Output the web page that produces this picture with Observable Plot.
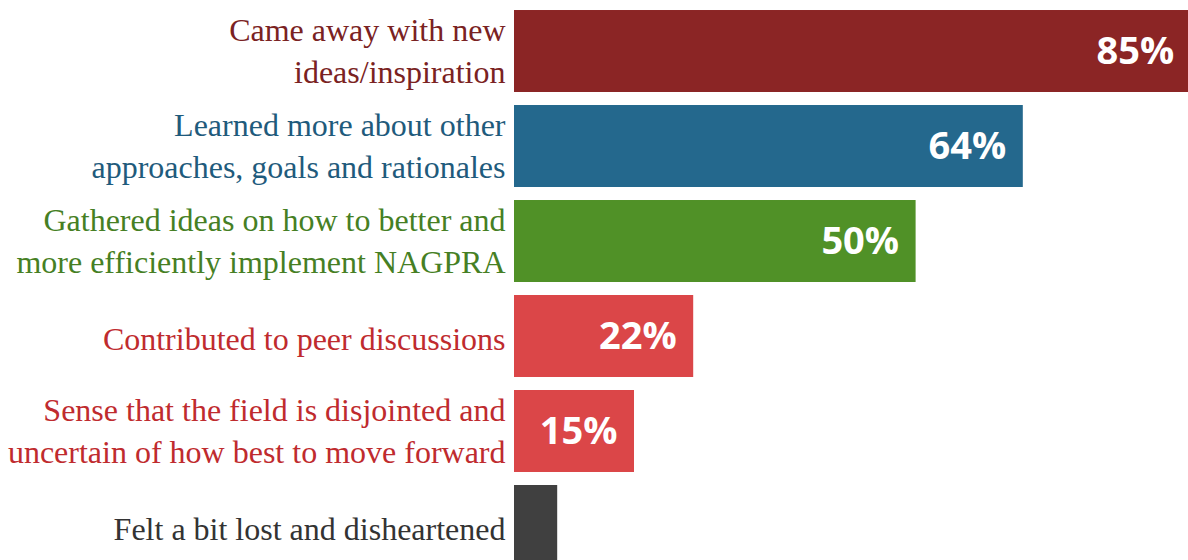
<!DOCTYPE html>
<html>
<head>
<meta charset="utf-8">
<script src="https://cdn.jsdelivr.net/npm/d3@7"></script>
<script src="https://cdn.jsdelivr.net/npm/@observablehq/plot@0.6"></script>
<style>
  html, body { margin: 0; padding: 0; background: #fff; }
  #chart svg { display: block; }
</style>
</head>
<body>
<div id="chart"></div>
<script>
const categories = [
  "Came away with new\nideas/inspiration",
  "Learned more about other\napproaches, goals and rationales",
  "Gathered ideas on how to better and\nmore efficiently implement NAGPRA",
  "Contributed to peer discussions",
  "Sense that the field is disjointed and\nuncertain of how best to move forward",
  "Felt a bit lost and disheartened"
];
const values = [84.6, 63.6, 50.2, 22.4, 15.0, 5.4];
const valueLabels = ["85%", "64%", "50%", "22%", "15%", ""];
const barColors = ["#8b2525", "#24688d", "#509127", "#db4648", "#db4648", "#404040"];
const textColors = ["#7a2222", "#1f5b7c", "#467f24", "#bf2b2e", "#bf2b2e", "#333333"];

const data = categories.map((c, i) => ({
  cat: c, value: values[i], label: valueLabels[i], bar: barColors[i], tc: textColors[i]
}));
const multi = data.filter(d => d.cat.includes("\n"));
const single = data.filter(d => !d.cat.includes("\n"));

const labelStyle = {
  x: 0, y: "cat", text: "cat", dx: -9, textAnchor: "end",
  fill: "tc", fontSize: 32, fontFamily: "Liberation Serif", lineHeight: 1.3
};

const chart = Plot.plot({
  width: 1188,
  height: 560,
  margin: 0,
  x: { domain: [0, 85], range: [514, 1194], axis: null },
  y: { domain: categories, range: [-3, 580], padding: 0.137, round: false, axis: null },
  color: { type: "identity" },
  marks: [
    Plot.barX(data, { x: "value", y: "cat", fill: "bar" }),
    Plot.text(multi, { ...labelStyle, dy: -3 }),
    Plot.text(single, { ...labelStyle, dy: 0 }),
    Plot.text(data.filter(d => d.label), {
      x: "value", y: "cat", text: "label", dx: -17, textAnchor: "end",
      fill: "white", fontWeight: "bold", fontSize: 38, fontFamily: "Open Sans"
    })
  ]
});
document.getElementById("chart").appendChild(chart);
</script>
</body>
</html>
